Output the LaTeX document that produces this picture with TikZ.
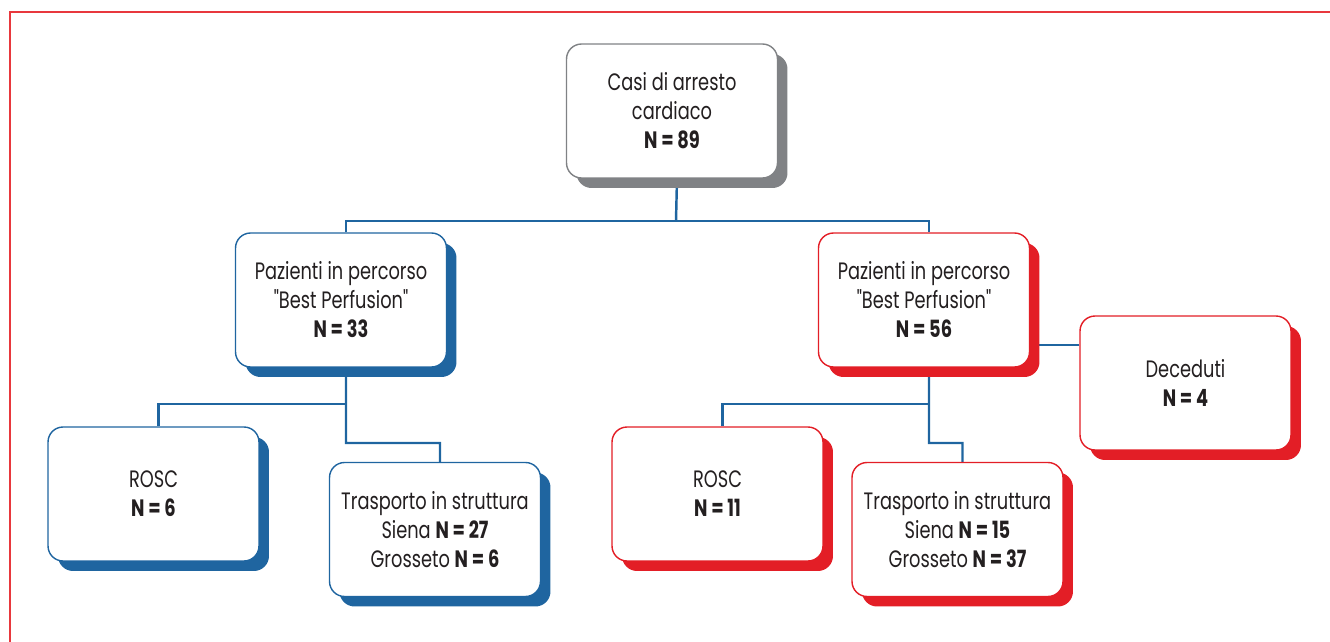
\documentclass[tikz,border=0pt]{standalone}
\usepackage{fontspec}
\setmainfont{Poppins}[Ligatures=TeXOff, FakeStretch=0.75]
\usepackage{tikz}
\usetikzlibrary{shadows,backgrounds}
\definecolor{bpblue}{RGB}{31,101,160}
\definecolor{bpred}{RGB}{227,30,38}
\definecolor{bpgrey}{RGB}{128,130,133}
\definecolor{bptext}{RGB}{35,31,32}
\definecolor{frame}{RGB}{232,56,61}

\begin{document}
\begin{tikzpicture}[x=0.02cm,y=-0.02cm,
		box/.style={rounded corners=0.3cm, fill=white, line width=0.8pt, text=bptext,
			minimum width=4.22cm, minimum height=2.68cm, inner sep=2pt, align=center,
			font=\fontsize{13.5}{16.5}\selectfont},
		greybox/.style={box, draw=bpgrey, drop shadow={shadow xshift=0.2cm, shadow yshift=-0.2cm, opacity=1, fill=bpgrey}},
		bluebox/.style={box, draw=bpblue, drop shadow={shadow xshift=0.2cm, shadow yshift=-0.2cm, opacity=1, fill=bpblue}},
		redbox/.style={box, draw=bpred, drop shadow={shadow xshift=0.2cm, shadow yshift=-0.2cm, opacity=1, fill=bpred}},
		conn/.style={bpblue, line width=1.4pt}]
		\useasboundingbox (0,0) rectangle (1330,642);
		\draw[frame, line width=0.6pt] (10,642) -- (10,12) -- (1330,12);
		\def\sh{0.1cm}
		\node[greybox] (top) at (672,111) {Casi di arresto\\cardiaco\\\textbf{N = 89}};
		\node[bluebox] (bpL) at (341,300) {Pazienti in percorso\\"Best Perfusion"\\\textbf{N = 33}};
		\node[redbox] (bpR) at (924,300) {Pazienti in percorso\\"Best Perfusion"\\\textbf{N = 56}};
		\node[redbox] (dec) at (1185.5,383) {Deceduti\\\textbf{N = 4}};
		\node[bluebox] (rosL) at (153.5,494) {ROSC\\\textbf{N = 6}};
		\node[bluebox] (trL) at (435,529.5) {Trasporto in struttura\\Siena \textbf{N = 27}\\Grosseto \textbf{N = 6}};
		\node[redbox] (rosR) at (717.5,494) {ROSC\\\textbf{N = 11}};
		\node[redbox] (trR) at (957.5,529.5) {Trasporto in struttura\\Siena \textbf{N = 15}\\Grosseto \textbf{N = 37}};
		\coordinate (j0) at (676,221);
		\coordinate (kL) at (346,404);
		\coordinate (mL) at (346,443);
		\coordinate (kR) at (929,404);
		\coordinate (mR) at (929,443);
		\begin{scope}[on background layer]
			\draw[conn] ([xshift=\sh]top.south) -- (j0);
			\draw[conn] ([xshift=\sh]bpL.north) |- (j0) -| ([xshift=\sh]bpR.north);
			\draw[conn] ([xshift=\sh]bpL.south) -- (mL) -| ([xshift=\sh]trL.north);
			\draw[conn] (kL) -| ([xshift=\sh]rosL.north);
			\draw[conn] ([xshift=\sh]bpR.south) -- (mR) -| ([xshift=\sh]trR.north);
			\draw[conn] (kR) -| ([xshift=\sh]rosR.north);
			\draw[conn] ([yshift=0.76cm]dec.west) -- ([yshift=0.76cm]dec.west -| bpR.east);
		\end{scope}
	\end{tikzpicture}
\end{document}
